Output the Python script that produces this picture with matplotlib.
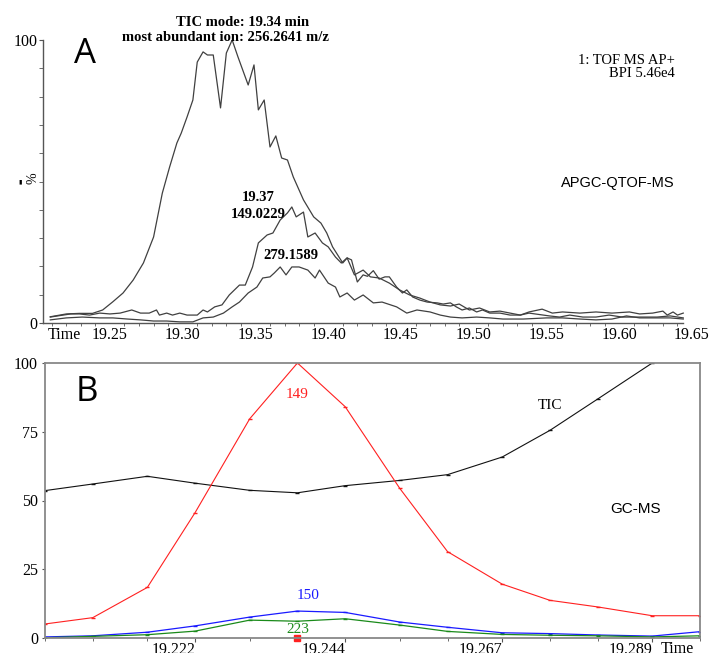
import matplotlib
matplotlib.use("Agg")
import matplotlib.pyplot as plt
from matplotlib.ticker import MultipleLocator, FixedLocator, NullFormatter

# Panel A: APGC-QTOF-MS traces (time in min, intensity in %)
tic_time = [19.209, 19.220, 19.229, 19.238, 19.245, 19.252, 19.259, 19.266, 19.273, 19.280,
            19.286, 19.291, 19.296, 19.299, 19.303, 19.307, 19.310, 19.314, 19.317, 19.321,
            19.326, 19.330, 19.334, 19.338, 19.345, 19.349, 19.352, 19.356, 19.360, 19.364,
            19.368, 19.372, 19.376, 19.383, 19.390, 19.395, 19.399, 19.403, 19.410, 19.413,
            19.416, 19.420, 19.424, 19.427, 19.431, 19.435, 19.439, 19.442, 19.447, 19.451,
            19.454, 19.458, 19.463, 19.468, 19.475, 19.479, 19.484, 19.488, 19.492, 19.497,
            19.502, 19.506, 19.511, 19.518, 19.525, 19.532, 19.538, 19.547, 19.554, 19.561,
            19.573, 19.584, 19.595, 19.607, 19.614, 19.623, 19.630, 19.633, 19.637, 19.640, 19.644]
tic_val = [2.2, 3.2, 3.4, 3.4, 4.6, 7.5, 10.6, 15.2, 21.2, 30.4,
           45.9, 55.1, 63.6, 67.1, 72.8, 78.8, 92.2, 95.8, 94.7, 94.7,
           76.0, 95.4, 100.0, 94.0, 84.1, 91.2, 75.3, 78.8, 62.2, 66.1,
           58.3, 57.6, 51.6, 43.5, 37.5, 35.3, 31.8, 26.9, 21.2, 23.0,
           22.3, 14.5, 17.0, 16.5, 18.5, 15.5, 16.3, 16.3, 12.7, 10.6,
           11.7, 9.2, 8.1, 7.4, 7.1, 6.7, 7.1, 5.7, 4.6, 5.3,
           3.9, 4.6, 3.5, 3.5, 2.8, 2.8, 3.9, 4.9, 3.5, 3.9,
           3.5, 3.9, 3.5, 3.9, 3.2, 3.5, 4.2, 2.8, 3.9, 2.8, 3.5]

ion149_time = [19.209, 19.223, 19.229, 19.236, 19.243, 19.250, 19.257, 19.265, 19.271, 19.277,
               19.282, 19.284, 19.289, 19.293, 19.298, 19.303, 19.310, 19.314, 19.317, 19.322,
               19.327, 19.332, 19.339, 19.343, 19.348, 19.352, 19.358, 19.362, 19.367, 19.372,
               19.375, 19.378, 19.383, 19.386, 19.391, 19.396, 19.400, 19.405, 19.409, 19.413,
               19.418, 19.424, 19.429, 19.435, 19.442, 19.449, 19.456, 19.463, 19.470, 19.477,
               19.484, 19.490, 19.497, 19.504, 19.511, 19.518, 19.525, 19.532, 19.538, 19.552,
               19.559, 19.566, 19.575, 19.584, 19.593, 19.602, 19.612, 19.626, 19.635, 19.644]
ion149_val = [2.1, 3.2, 3.2, 2.8, 3.5, 3.2, 3.5, 4.6, 3.5, 3.5,
              4.6, 2.8, 3.5, 2.8, 3.5, 2.8, 2.8, 4.6, 3.9, 5.7,
              6.4, 9.9, 13.4, 13.4, 19.8, 28.3, 31.1, 31.8, 36.4, 38.9,
              41.0, 37.5, 39.2, 30.4, 31.8, 28.3, 26.9, 23.3, 21.2, 23.0,
              17.0, 18.7, 16.3, 15.9, 14.1, 11.7, 9.9, 8.8, 7.4, 6.4,
              6.0, 6.7, 4.6, 5.3, 3.9, 4.2, 3.5, 2.8, 3.5, 2.5,
              2.1, 2.8, 2.1, 2.1, 2.8, 2.1, 2.1, 2.1, 2.5, 1.8]

ion279_time = [19.209, 19.220, 19.231, 19.243, 19.252, 19.262, 19.271, 19.280, 19.289, 19.298,
               19.307, 19.314, 19.321, 19.328, 19.334, 19.339, 19.345, 19.351, 19.355, 19.360,
               19.363, 19.367, 19.371, 19.375, 19.380, 19.386, 19.391, 19.394, 19.400, 19.405,
               19.408, 19.413, 19.418, 19.424, 19.431, 19.437, 19.447, 19.454, 19.461, 19.470,
               19.477, 19.484, 19.492, 19.502, 19.511, 19.520, 19.534, 19.550, 19.561, 19.573,
               19.584, 19.595, 19.605, 19.614, 19.626, 19.635, 19.644]
ion279_val = [1.1, 1.8, 2.1, 1.8, 1.8, 1.4, 1.1, 0.7, 0.7, 0.4,
              0.4, 1.8, 2.1, 3.5, 5.7, 7.4, 10.6, 12.7, 15.9, 16.3,
              17.7, 19.8, 17.0, 19.8, 19.8, 18.7, 15.9, 18.7, 14.1, 12.7,
              9.2, 10.6, 8.1, 9.9, 7.1, 7.4, 5.7, 3.5, 4.6, 3.9,
              2.8, 2.1, 1.8, 2.1, 1.8, 1.4, 1.4, 1.8, 1.8, 1.4,
              1.1, 1.4, 2.5, 1.8, 1.8, 1.8, 1.4]

# Panel B: GC-MS traces
gc_time = [19.200, 19.207, 19.215, 19.222, 19.230, 19.237, 19.244,
           19.252, 19.259, 19.267, 19.274, 19.281, 19.289, 19.296]
gc_tic = [53.6, 56.0, 58.8, 56.3, 53.7, 52.8, 55.4, 57.3, 59.4, 65.8, 75.5, 86.9, 100.0, 113.0]
gc_149 = [5.1, 7.4, 18.4, 45.6, 79.7, 100.0, 84.1, 54.4, 31.4, 19.6, 13.7, 11.3, 8.1, 8.1]
gc_150 = [0.4, 0.8, 2.1, 4.4, 7.6, 9.8, 9.3, 5.8, 3.9, 1.9, 1.6, 1.1, 0.7, 2.3]
gc_223 = [0.1, 0.6, 1.2, 2.5, 6.5, 6.1, 7.0, 4.7, 2.4, 1.3, 1.0, 0.8, 0.4, 0.8]
gc_labels = ["19.222", "19.244", "19.267", "19.289"]

SERIF = "Liberation Serif"
SANS = "Liberation Sans"

fig = plt.figure(figsize=(7.11, 6.53), dpi=100)

# ---- Panel A
axA = fig.add_axes([43 / 711, 330 / 653, 649 / 711, 283 / 653])
for t, v in [(tic_time, tic_val), (ion149_time, ion149_val), (ion279_time, ion279_val)]:
    axA.plot(t, v, color="#404040", lw=0.9)
axA.set_xlim(19.2040, 19.65)
axA.set_ylim(0, 100)
for s in ["top", "right"]:
    axA.spines[s].set_visible(False)
axA.spines["bottom"].set_bounds(19.2040, 19.6435)
for s in ["left", "bottom"]:
    axA.spines[s].set_color("#555555")
    axA.spines[s].set_linewidth(1.0)
axA.xaxis.set_major_locator(FixedLocator([19.25, 19.30, 19.35, 19.40, 19.45, 19.50, 19.55, 19.60, 19.65]))
axA.xaxis.set_minor_locator(MultipleLocator(0.01))
axA.set_xticklabels(["19.25", "19.30", "19.35", "19.40", "19.45", "19.50", "19.55", "19.60", "19.65"],
                    family=SERIF, fontsize=11.5)
axA.tick_params(axis="x", which="major", length=0, pad=3)
axA.tick_params(axis="x", which="minor", length=2.5, color="#555555")
axA.yaxis.set_major_locator(FixedLocator([0, 100]))
axA.set_yticklabels(["0", "100"], family=SERIF, fontsize=11.5)
axA.yaxis.set_minor_locator(MultipleLocator(10))
axA.tick_params(axis="y", which="major", length=3, color="#555555", pad=1)
axA.tick_params(axis="y", which="minor", length=3, color="#555555")
axA.text(-0.015, 0.51, "%", transform=axA.transAxes, rotation=90, ha="center", va="center",
         family=SERIF, fontsize=10)
axA.text(-0.035, 0.497, "\u25AE", transform=axA.transAxes, ha="center", va="center",
         family="DejaVu Sans", fontsize=4.5)
axA.text(19.2075, -0.015, "Time", transform=axA.get_xaxis_transform(), ha="left", va="top",
         family=SERIF, fontsize=11.5)
axA.text(0.064, 1.01, "A", transform=axA.transAxes, ha="center", va="top", family="Open Sans",
         fontsize=25)
axA.text(19.3413, 106.3, "TIC mode: 19.34 min", ha="center", va="center", family=SERIF,
         fontsize=10.5, fontweight="bold")
axA.text(19.3297, 101.0, "most abundant ion: 256.2641 m/z", ha="center", va="center",
         family=SERIF, fontsize=10.5, fontweight="bold")
axA.text(19.352, 44.3, "19.37", ha="center", va="center", family=SERIF, fontsize=10.5,
         fontweight="bold")
axA.text(19.352, 38.3, "149.0229", ha="center", va="center", family=SERIF, fontsize=10.5,
         fontweight="bold")
axA.text(19.374, 24.0, "279.1589", ha="center", va="center", family=SERIF, fontsize=10.5,
         fontweight="bold")
axA.text(19.638, 92.9, "1: TOF MS AP+", ha="right", va="center", family=SERIF, fontsize=10.5)
axA.text(19.638, 88.0, "BPI 5.46e4", ha="right", va="center", family=SERIF, fontsize=10.5)
axA.text(19.638, 49.5, "APGC-QTOF-MS", ha="right", va="center", family=SANS, fontsize=10.5)

# ---- Panel B
axB = fig.add_axes([45 / 711, 15 / 653, 655 / 711, 275 / 653])
axB.plot(gc_time, gc_tic, color="#111111", lw=0.8, marker="_", ms=3, mew=1)
axB.plot(gc_time, gc_149, color="#ff2020", lw=0.8, marker="_", ms=3, mew=1)
axB.plot(gc_time, gc_150, color="#1a1aff", lw=0.9, marker="_", ms=3, mew=1)
axB.plot(gc_time, gc_223, color="#1a8a1a", lw=0.9, marker="_", ms=3, mew=1)
axB.plot([gc_time[5]], [0], marker="s", ms=4, color="#ff2020", clip_on=False)
axB.set_xlim(gc_time[0], gc_time[-1])
axB.set_ylim(0, 100)
for s in axB.spines.values():
    s.set_color("#888888")
    s.set_linewidth(1.3)
axB.xaxis.set_major_locator(FixedLocator([gc_time[3], gc_time[6], gc_time[9], gc_time[12]]))
axB.xaxis.set_minor_locator(FixedLocator(gc_time))
axB.xaxis.set_minor_formatter(NullFormatter())
axB.set_xticklabels(gc_labels, family=SERIF, fontsize=11.5, ha="right")
axB.tick_params(axis="x", which="major", length=3, color="#555555", pad=0)
axB.tick_params(axis="x", which="minor", length=2.5, color="#555555")
axB.yaxis.set_major_locator(FixedLocator([0, 25, 50, 75, 100]))
axB.set_yticklabels(["0", "25", "50", "75", "100"], family=SERIF, fontsize=11.5)
axB.tick_params(axis="y", which="major", length=2, color="#555555", pad=3)
axB.text(0.966, -0.01, "Time", transform=axB.transAxes, ha="center", va="top",
         family=SERIF, fontsize=11.5)
axB.text(0.064, 0.955, "B", transform=axB.transAxes, ha="center", va="top", family="Open Sans",
         fontsize=25)
axB.text(gc_time[5], 88.5, "149", color="#ff2020", ha="center", va="center", family=SERIF,
         fontsize=11)
axB.text(gc_time[5] + 0.0015, 15.5, "150", color="#1a1aff", ha="center", va="center",
         family=SERIF, fontsize=11)
axB.text(gc_time[5], 3.0, "223", color="#1a8a1a", ha="center", va="center", family=SERIF,
         fontsize=11)
axB.text(19.274, 84.5, "TIC", ha="center", va="center", family=SERIF, fontsize=11)
axB.text(19.2865, 47.0, "GC-MS", ha="center", va="center", family=SANS, fontsize=11)

fig.savefig("out.png", dpi=100)
